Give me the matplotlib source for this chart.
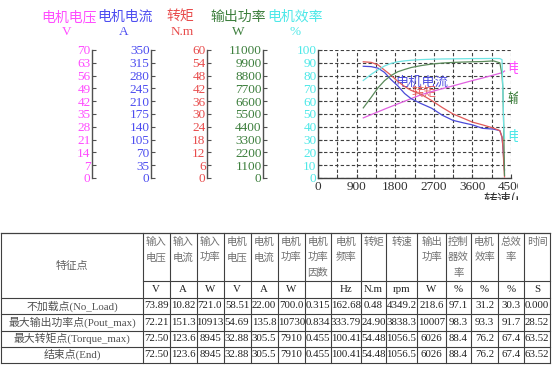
import matplotlib
matplotlib.use('Agg')
import matplotlib.pyplot as plt
from matplotlib.transforms import Bbox, TransformedBbox
from matplotlib.lines import Line2D
import numpy as np

W, H = 554, 366

# ---------------- data ----------------
speed = [1056, 1240, 1400, 1550, 1700, 1860, 2020, 2170, 2400, 2650, 2900,
         3150, 3400, 3600, 3838, 4090, 4240, 4290, 4310, 4330, 4349]
motor_voltage = [32.88, 34.65, 36.19, 37.66, 39.06, 40.53, 42.0, 43.4, 45.5, 47.25, 48.86,
                 50.4, 52.0, 53.27, 54.69, 56.28, 57.26, 57.54, 57.82, 58.17, 58.51]
motor_current = [305.5, 304.5, 300.3, 288.8, 269.5, 252.0, 231.0, 217.0, 203.7, 190.8, 171.5,
                 157.5, 150.5, 145.3, 135.8, 133.7, 129.5, 112.0, 87.5, 52.5, 22.0]
torque = [54.48, 54.2, 53.0, 50.6, 48.2, 45.3, 42.9, 41.1, 39.3, 36.3, 33.0,
          30.0, 27.9, 26.2, 24.9, 23.4, 22.2, 19.2, 15.0, 7.2, 0.48]
output_power = [6026, 6930, 7755, 8360, 8800, 9130, 9328, 9493, 9658, 9790, 9878,
                9933, 9966, 9988, 10007, 10065, 9900, 8900, 7700, 4400, 218.6]
motor_eff = [76.2, 81.0, 84.5, 87.5, 89.5, 90.8, 91.5, 92.0, 92.5, 92.8, 93.0,
             93.1, 93.2, 93.3, 93.3, 93.4, 93.3, 92.5, 70.0, 40.0, 31.2]

axis_names = ['电机电压', '电机电流', '转矩', '输出功率', '电机效率']
axis_units = ['V', 'A', 'N.m', 'W', '%']
axis_max = [70, 350, 60, 11000, 100]
speed_ticks = [0, 900, 1800, 2700, 3600, 4500]
speed_grid = [0, 450, 900, 1350, 1800, 2250, 2700, 3150, 3600, 4050, 4500]

table_headers = ['输入\n电压', '输入\n电流', '输入\n功率', '电机\n电压', '电机\n电流', '电机\n功率',
                 '电机\n功率\n因数', '电机\n频率', '转矩', '转速', '输出\n功率', '控制\n器效\n率',
                 '电机\n效率', '总效\n率', '时间']
table_units = ['V', 'A', 'W', 'V', 'A', 'W', '', 'Hz', 'N.m', 'rpm', 'W', '%', '%', '%', 'S']
row_names = ['不加载点(No_Load)', '最大输出功率点(Pout_max)', '最大转矩点(Torque_max)', '结束点(End)']
row_no_load = ['73.89', '10.82', '721.0', '58.51', '22.00', '700.0', '0.315', '162.68', '0.48',
               '4349.2', '218.6', '97.1', '31.2', '30.3', '0.000']
row_pout_max = ['72.21', '151.3', '10913', '54.69', '135.8', '10730', '0.834', '333.79', '24.90',
                '3838.3', '10007', '98.3', '93.3', '91.7', '28.52']
row_torque_max = ['72.50', '123.6', '8945', '32.88', '305.5', '7910', '0.455', '100.41', '54.48',
                  '1056.5', '6026', '88.4', '76.2', '67.4', '63.52']
row_end = ['72.50', '123.6', '8945', '32.88', '305.5', '7910', '0.455', '100.41', '54.48',
           '1056.5', '6026', '88.4', '76.2', '67.4', '63.52']
table_rows = [row_no_load, row_pout_max, row_torque_max, row_end]

# ---------------- style ----------------
label_colors = ['#ff4dff', '#4d4df0', '#e84c4c', '#3d7f3d', '#4de8e8']
line_colors = ['#e060e0', '#4a4ad8', '#e05a5a', '#5a8a5a', '#70e4e4']
NUM = ['Liberation Serif', 'Noto Sans CJK SC']
CJK = ['Noto Sans CJK SC', 'DejaVu Sans']
plt.rcParams['font.family'] = CJK

fig = plt.figure(figsize=(W / 100, H / 100), dpi=100)


def fx(px):
    return px / W


def fy(py):
    return 1 - py / H


chart_clip = TransformedBbox(Bbox.from_extents(0, fy(200), fx(518), 1), fig.transFigure)

PL, PR, PT, PB = 318, 511, 50, 178
rect = [fx(PL), fy(PB), (PR - PL) / W, (PB - PT) / H]
ax = fig.add_axes(rect)
ax.set_xlim(0, 4500)
ax.set_ylim(0, 100)
ax.set_xticks(speed_ticks)
ax.set_xticks(speed_grid, minor=True)
ax.set_yticks(np.linspace(0, 100, 11))
ax.set_yticklabels([f'{v:g}' for v in np.linspace(0, 100, 11)])
ax.grid(True, which='both', linestyle=(0, (3, 2)), color='#404040', linewidth=0.8)
for s in ['top', 'right']:
    ax.spines[s].set_visible(False)
for s in ['left', 'bottom']:
    ax.spines[s].set_color('#404040')
    ax.spines[s].set_linewidth(1.0)
ax.tick_params(axis='both', which='both', direction='in', length=3, color='#404040')
ax.tick_params(axis='y', labelcolor=label_colors[4], labelsize=9.5, pad=1)
ax.tick_params(axis='x', labelcolor='#303030', labelsize=9.5, pad=2)
for lab in ax.get_yticklabels() + ax.get_xticklabels():
    lab.set_fontfamily(NUM)
for t in ax.xaxis.get_major_ticks():
    t.label1.set_clip_on(True)
    t.label1.set_clip_box(chart_clip)

# curves on overlaid axes sharing the speed scale
series = [motor_voltage, motor_current, torque, output_power, motor_eff]
for i, (vals, m) in enumerate(zip(series, axis_max)):
    tw = fig.add_axes(rect, sharex=ax)
    tw.set_ylim(0, m)
    tw.axis('off')
    tw.patch.set_visible(False)
    tw.plot(speed, vals, color=line_colors[i], linewidth=0.9)

# in-plot labels
ax.text(2425, 75, '电机电流', color='#5050e0', fontsize=9.5, ha='center', va='center', zorder=5)
ax.text(2470, 67, '转矩', color='#e86060', fontsize=9, ha='center', va='center', zorder=5)

# right side end labels (clipped)
for lbl, col, py in [('电机电压', label_colors[0], 68), ('输出功率', label_colors[3], 99),
                     ('电机效率', label_colors[4], 137)]:
    t = fig.text(fx(507), fy(py), lbl, color=col, fontsize=10, ha='left', va='center')
    t.set_clip_on(True)
    t.set_clip_box(chart_clip)

xl = fig.text(fx(483), fy(192), '转速(rpm)', color='#303030', fontsize=10, ha='left', va='top')
xl.set_clip_on(True)
xl.set_clip_box(chart_clip)

# separate left axes
spine_x = [92, 151, 207, 263]
for i, x in enumerate(spine_x):
    a = fig.add_axes([fx(x), fy(PB), 1 / W, (PB - PT) / H])
    a.patch.set_visible(False)
    for s in ['top', 'right', 'bottom']:
        a.spines[s].set_visible(False)
    a.spines['left'].set_color('#505050')
    a.spines['left'].set_linewidth(1.0)
    a.set_xticks([])
    a.set_ylim(0, axis_max[i])
    ticks = np.linspace(0, axis_max[i], 11)
    a.set_yticks(ticks)
    a.set_yticklabels([f'{v:g}' for v in ticks])
    a.tick_params(axis='y', direction='in', length=3, color='#505050',
                  labelcolor=label_colors[i], labelsize=9.5, pad=1)
    for lab in a.get_yticklabels():
        lab.set_fontfamily(NUM)

name_x = [69, 125, 180, 238, 295]
unit_x = [67, 124, 182, 238, 295]
for i in range(5):
    fig.text(fx(name_x[i]), fy(17), axis_names[i], color=label_colors[i], fontsize=10,
             ha='center', va='center')
    fig.text(fx(unit_x[i]), fy(32), axis_units[i], color=label_colors[i], fontsize=9.5,
             ha='center', va='center', family=NUM)

# ---------------- table ----------------
tab = fig.add_axes([0, 0, 1, 1])
tab.set_xlim(0, W)
tab.set_ylim(H, 0)
tab.axis('off')
tab.patch.set_visible(False)

col_edges = [1, 143, 169.5, 196.5, 223.5, 250.5, 277.5, 305, 331, 361, 386, 417, 446, 471, 498, 524, 550]
row_edges = [233, 281, 298, 314, 330.5, 346.5, 362.5]
lc = '#404040'
tab.add_line(Line2D([col_edges[0], col_edges[-1]], [row_edges[0]] * 2, color=lc, lw=0.9))
tab.add_line(Line2D([col_edges[1], col_edges[-1]], [row_edges[1]] * 2, color=lc, lw=0.8))
for y in row_edges[2:]:
    tab.add_line(Line2D([col_edges[0], col_edges[-1]], [y, y], color=lc, lw=0.8))
for x in col_edges:
    tab.add_line(Line2D([x, x], [row_edges[0], row_edges[-1]], color=lc, lw=0.8))

tab.text((col_edges[0] + col_edges[1]) / 2, (row_edges[0] + row_edges[2]) / 2, '特征点',
         ha='center', va='center', fontsize=7.8, color='#606060')
for j, hd in enumerate(table_headers):
    cx = (col_edges[j + 1] + col_edges[j + 2]) / 2
    for k, line in enumerate(hd.split('\n')):
        tab.text(cx, 241.7 + 15.6 * k, line, ha='center', va='center', fontsize=7.5, color='#707070')
    tab.text(cx, (row_edges[1] + row_edges[2]) / 2, table_units[j], ha='center', va='center',
             fontsize=7.8, color='#202020', family=NUM)
for r, (nm, vals) in enumerate(zip(row_names, table_rows)):
    cy = (row_edges[r + 2] + row_edges[r + 3]) / 2
    tab.text((col_edges[0] + col_edges[1]) / 2, cy, nm, ha='center', va='center',
             fontsize=7.8, color='#505050', family=NUM)
    for j, v in enumerate(vals):
        cx = (col_edges[j + 1] + col_edges[j + 2]) / 2
        tab.text(cx, cy, v, ha='center', va='center', fontsize=7.8, color='#202020', family=NUM)

fig.savefig('out.png', dpi=100)
